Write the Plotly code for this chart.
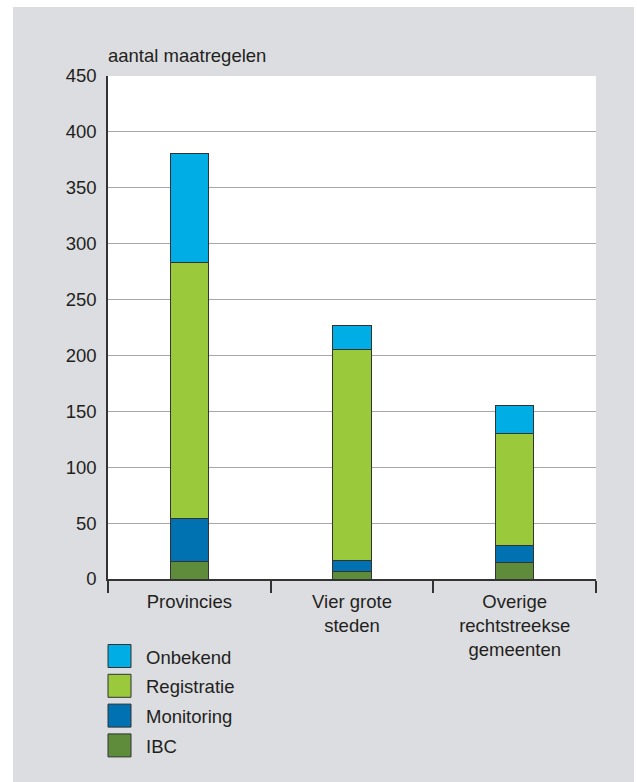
import plotly.graph_objects as go

categories = ["Provincies", "Vier grote<br>steden", "Overige<br>rechtstreekse<br>gemeenten"]
series_names = ["IBC", "Monitoring", "Registratie", "Onbekend"]
ibc = [16, 7, 15]
monitoring = [38, 10, 15]
registratie = [229, 188, 100]
onbekend = [98, 22, 25]
y_ticks = [0, 50, 100, 150, 200, 250, 300, 350, 400, 450]
y_title = "aantal maatregelen"

colors = {
    "IBC": "#5f8c3b",
    "Monitoring": "#0071b1",
    "Registratie": "#9aca3c",
    "Onbekend": "#00ade5",
}
values = {"IBC": ibc, "Monitoring": monitoring, "Registratie": registratie, "Onbekend": onbekend}

W, H = 637, 782
ML, MR, MT, MB = 108, 41, 76, 203
PW = W - ML - MR
PH = H - MT - MB
FONT = "Liberation Sans, Arial, sans-serif"
TXT = "#231f20"


def px_x(x):
    return (x - ML) / PW


def px_y(y):
    return (H - MB - y) / PH


fig = go.Figure()
for name in series_names:
    fig.add_trace(go.Bar(
        x=categories, y=values[name], name=name,
        marker=dict(color=colors[name], line=dict(color="#333333", width=1)),
        width=0.234, showlegend=False, hoverinfo="skip",
    ))

shapes = [
    dict(type="rect", xref="paper", yref="paper", layer="below",
         x0=px_x(13), x1=px_x(634), y0=px_y(800), y1=px_y(7),
         fillcolor="#dcdde0", line=dict(width=0)),
    dict(type="rect", xref="paper", yref="paper", layer="below",
         x0=0, x1=1, y0=0, y1=1, fillcolor="#ffffff", line=dict(width=0)),
]
annotations = [
    dict(text=y_title, xref="paper", yref="paper", x=px_x(106), y=px_y(55),
         xanchor="left", yanchor="middle", showarrow=False,
         font=dict(family=FONT, size=18.5, color=TXT)),
]

legend_order = ["Onbekend", "Registratie", "Monitoring", "IBC"]
for i, name in enumerate(legend_order):
    cy = 656 + i * 29.8
    shapes.append(dict(type="rect", xref="paper", yref="paper",
                       x0=px_x(108), x1=px_x(131), y0=px_y(cy + 11.5), y1=px_y(cy - 11.5),
                       fillcolor=colors[name], line=dict(color="#333333", width=1)))
    annotations.append(dict(text=name, xref="paper", yref="paper", x=px_x(144), y=px_y(cy + 1),
                            xanchor="left", yanchor="middle", showarrow=False,
                            font=dict(family=FONT, size=18.5, color=TXT)))

fig.update_layout(
    barmode="stack",
    width=W, height=H,
    margin=dict(l=ML, r=MR, t=MT, b=MB, pad=0),
    paper_bgcolor="#ffffff",
    plot_bgcolor="rgba(0,0,0,0)",
    font=dict(family=FONT, size=18.5, color=TXT),
    shapes=shapes,
    annotations=annotations,
    showlegend=False,
)
fig.update_xaxes(
    showline=True, linecolor="#333333", linewidth=1.5,
    ticks="outside", tickson="boundaries", ticklen=12, tickwidth=1.5, tickcolor="#333333",
    ticklabelstandoff=5,
    showgrid=False, tickfont=dict(family=FONT, size=18.5, color=TXT),
)
fig.update_yaxes(
    range=[0, 450], tickvals=y_ticks, showline=True, linecolor="#333333", linewidth=1.5,
    showgrid=True, gridcolor="#a8a8a8", gridwidth=1, zeroline=False,
    ticks="", ticklabelstandoff=6, tickfont=dict(family=FONT, size=18.5, color=TXT),
)

fig.write_html(
    "out.html",
    config={"displayModeBar": False},
    post_script="document.body.style.margin='0';document.body.style.overflow='hidden';",
)
